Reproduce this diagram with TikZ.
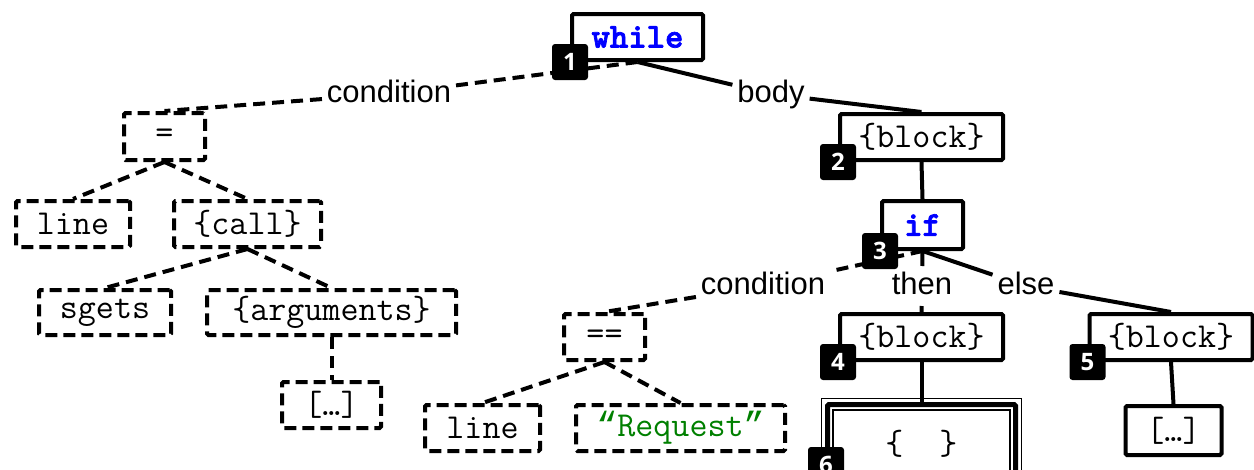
\documentclass[tikz,border=0pt]{standalone}
\usepackage{fontspec}
\setmainfont{Liberation Sans}
\newfontfamily\badgefnt{Open Sans}
\newfontfamily\qfont{Liberation Mono}
\newfontfamily\kwfont{lmmonolt10-bold.otf}[FakeBold=2]
\definecolor{kwblue}{RGB}{0,0,255}
\definecolor{strgreen}{RGB}{0,128,0}
\newcommand\mymono{\ttfamily\fontsize{35}{40}\selectfont}
\newcommand\mylbl{\fontsize{31}{36}\selectfont}
\newcommand\mybadge{\badgefnt\bfseries\fontsize{24}{28}\selectfont}
\tikzset{
  box/.style={draw, line width=4pt, fill=white, inner sep=0pt, rounded corners=1.5pt, font=\mymono},
  dbox/.style={box, dash pattern=on 12pt off 6pt},
  kw/.style={text=kwblue, font=\kwfont\fontsize{35}{40}\selectfont},
  edge/.style={line width=4pt},
  dedge/.style={edge, dash pattern=on 12pt off 7pt},
  lbl/.style={fill=white, inner sep=5pt, outer sep=0pt, font=\mylbl, text height=23pt, text depth=7pt},
  badge/.style={fill=black, rounded corners=3pt, minimum size=36pt, inner sep=0pt, text=white, font=\mybadge}
}
\begin{document}
\begin{tikzpicture}[x=1pt,y=-1pt]
\path[use as bounding box] (0,0) rectangle (1254,469);
\clip (0,0) rectangle (1254,469);
% solid nodes
\node[box, kw, minimum width=131pt, minimum height=46pt] (while) at (637.5,37) {while};
\node[box, minimum width=163pt, minimum height=46pt] (blk2) at (921.5,137) {\{block\}};
\node[box, kw, minimum width=81pt, minimum height=48pt] (if) at (922.5,225) {if};
\node[box, minimum width=163pt, minimum height=46pt] (blk4) at (921.5,337) {\{block\}};
\node[box, minimum width=163pt, minimum height=46pt] (blk5) at (1171,337) {\{block\}};
\node[box, line width=5pt, minimum width=188pt, minimum height=79pt] (brace) at (921.5,444) {\{\ \ \}};
\draw[line width=2pt] ([shift={(8,8)}]brace.north west) rectangle ([shift={(-8,-8)}]brace.south east);
\draw[line width=1.8pt] ([shift={(-3.5,-3.5)}]brace.north west) rectangle ([shift={(3.5,3.5)}]brace.south east);
\node[box, minimum width=96pt, minimum height=49pt] (rdots) at (1173.5,430.5) {[…]};
% dashed nodes
\node[dbox, minimum width=81pt, minimum height=47pt] (eq) at (164.5,136.5) {=};
\node[dbox, minimum width=114pt, minimum height=46pt] (line1) at (73,224) {line};
\node[dbox, minimum width=147pt, minimum height=46pt] (call) at (247.5,224) {\{call\}};
\node[dbox, minimum width=132pt, minimum height=45pt] (sgets) at (105,312.5) {sgets};
\node[dbox, minimum width=249pt, minimum height=45pt] (args) at (331.5,312.5) {\{arguments\}};
\node[dbox, minimum width=99pt, minimum height=46pt] (ldots) at (331.5,405) {[…]};
\node[dbox, minimum width=81pt, minimum height=46pt] (eqeq) at (604.5,337) {==};
\node[dbox, minimum width=115pt, minimum height=46pt] (line2) at (482.5,428) {line};
\node[dbox, text=strgreen, minimum width=209pt, minimum height=46pt] (req) at (680.5,428) {{\qfont “}Request{\qfont ”}};
% edge labels
\node[lbl] (lc1) at (389,94) {condition};
\node[lbl] (lb) at (771,94) {body};
\node[lbl] (lc2) at (763,286) {condition};
\node[lbl] (lt) at (922,286) {then};
\node[lbl] (le) at (1026,286) {else};
% edges
\draw[dedge] (while.south) -- (lc1);
\draw[dedge] (lc1) -- (eq.north);
\draw[edge] (while.south) -- (lb);
\draw[edge] (lb) -- (blk2.north);
\draw[edge] (blk2.south) -- (if.north);
\draw[dedge] (if.south) -- (lc2);
\draw[dedge] (lc2) -- (eqeq.north);
\draw[edge] (if.south) -- (lt);
\draw[edge] (lt) -- (blk4.north);
\draw[edge] (if.south) -- (le);
\draw[edge] (le) -- (blk5.north);
\draw[edge] (blk4.south) -- (brace.north);
\draw[edge] (blk5.south) -- (rdots.north);
\draw[dedge] (eq.south) -- (line1.north);
\draw[dedge] (eq.south) -- (call.north);
\draw[dedge] (call.south) -- (sgets.north);
\draw[dedge] (call.south) -- (args.north);
\draw[dedge] (args.south) -- (ldots.north);
\draw[dedge] (eqeq.south) -- (line2.north);
\draw[dedge] (eqeq.south) -- (req.north);
% badges
\node[badge] (b1) at (while.south west) {1};
\node[badge] (b2) at (blk2.south west) {2};
\node[badge] (b3) at (if.south west) {3};
\node[badge] (b4) at (blk4.south west) {4};
\node[badge] (b5) at (blk5.south west) {5};
\node[badge] (b6) at (826,465) {6};
\end{tikzpicture}
\end{document}
